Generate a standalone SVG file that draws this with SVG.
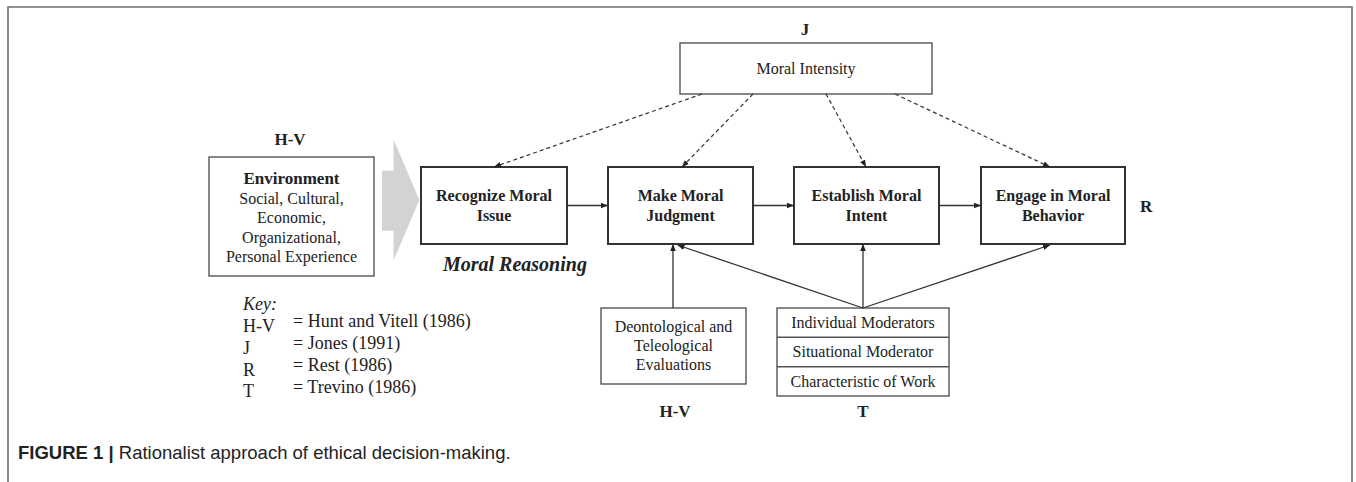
<svg xmlns="http://www.w3.org/2000/svg" width="1356" height="482" viewBox="0 0 1356 482">
<style>
  .t{font-family:"Liberation Serif","Times New Roman",serif;fill:#222}
  .b{font-weight:bold}
  .c{text-anchor:middle}
  .s16{font-size:16px}
  .s17{font-size:17px}
  .main{fill:#fff;stroke:#333;stroke-width:2}
  .sub{fill:#fff;stroke:#555;stroke-width:1.4}
  .ln{fill:none;stroke:#333;stroke-width:1.3}
  .dash{fill:none;stroke:#333;stroke-width:1.2;stroke-dasharray:4 3}
</style>
<defs>
  <marker id="ah" viewBox="0 0 10 10" refX="10" refY="5" markerWidth="7" markerHeight="7" orient="auto" markerUnits="userSpaceOnUse">
    <path d="M0,1 L10,5 L0,9 Z" fill="#222"/>
  </marker>
</defs>
<rect width="1356" height="482" fill="#fff"/>
<path d="M8,490 L8,7 L1352,7 L1352,490" fill="none" stroke="#6e6e6e" stroke-width="1.6"/>

<g id="label-j"><text class="t b c s17" x="805" y="35">J</text></g>
<g id="moral-intensity">
  <rect class="sub" x="680" y="43" width="252" height="51"/>
  <text class="t c s16" x="806" y="74">Moral Intensity</text>
</g>

<g id="label-hv-top"><text class="t b c s17" x="290" y="145">H-V</text></g>
<g id="environment">
  <rect class="sub" x="209" y="157" width="165" height="119"/>
  <text class="t b c s17" x="291.5" y="184">Environment</text>
  <text class="t c s16" x="291.5" y="204">Social, Cultural,</text>
  <text class="t c s16" x="291.5" y="223">Economic,</text>
  <text class="t c s16" x="291.5" y="243">Organizational,</text>
  <text class="t c s16" x="291.5" y="262">Personal Experience</text>
</g>
<g id="big-arrow">
  <path d="M382,170.7 L393.5,170.7 L393.5,139.3 L419.3,200 L393.5,260.7 L393.5,230.7 L382,230.7 Z" fill="#d3d3d3"/>
</g>

<g id="recognize">
  <rect class="main" x="421" y="167" width="146" height="77"/>
  <text class="t b c s16" x="494" y="201">Recognize Moral</text>
  <text class="t b c s16" x="494" y="221">Issue</text>
</g>
<g id="judgment">
  <rect class="main" x="608" y="167" width="145" height="77"/>
  <text class="t b c s16" x="680.5" y="201">Make Moral</text>
  <text class="t b c s16" x="680.5" y="221">Judgment</text>
</g>
<g id="intent">
  <rect class="main" x="794" y="167" width="145" height="77"/>
  <text class="t b c s16" x="866.5" y="201">Establish Moral</text>
  <text class="t b c s16" x="866.5" y="221">Intent</text>
</g>
<g id="behavior">
  <rect class="main" x="981" y="167" width="144" height="77"/>
  <text class="t b c s16" x="1053" y="201">Engage in Moral</text>
  <text class="t b c s16" x="1053" y="221">Behavior</text>
</g>
<g id="label-r"><text class="t b s17" x="1140" y="212">R</text></g>
<g id="moral-reasoning"><text class="t b" x="443" y="271" font-size="20" font-style="italic">Moral Reasoning</text></g>

<g id="deontological">
  <rect class="sub" x="601" y="308" width="145" height="76"/>
  <text class="t c s16" x="673.5" y="332">Deontological and</text>
  <text class="t c s16" x="673.5" y="351">Teleological</text>
  <text class="t c s16" x="673.5" y="370">Evaluations</text>
</g>
<g id="label-hv-bottom"><text class="t b c s17" x="675" y="417">H-V</text></g>

<g id="moderators">
  <rect class="sub" x="777" y="308" width="172" height="88"/>
  <line x1="777" y1="337.3" x2="949" y2="337.3" stroke="#555" stroke-width="1.4"/>
  <line x1="777" y1="366.7" x2="949" y2="366.7" stroke="#555" stroke-width="1.4"/>
  <text class="t c s16" x="863" y="328">Individual Moderators</text>
  <text class="t c s16" x="863" y="357">Situational Moderator</text>
  <text class="t c s16" x="863" y="386.5">Characteristic of Work</text>
</g>
<g id="label-t"><text class="t b c s17" x="863" y="417">T</text></g>

<g id="key">
  <text class="t" x="243" y="310" font-size="18" font-style="italic">Key:</text>
  <text class="t" x="243" y="332" font-size="18">H-V</text>
  <text class="t" x="243" y="354" font-size="18">J</text>
  <text class="t" x="243" y="376" font-size="18">R</text>
  <text class="t" x="243" y="397" font-size="18">T</text>
  <text class="t" x="293" y="327" font-size="18">= Hunt and Vitell (1986)</text>
  <text class="t" x="293" y="349" font-size="18">= Jones (1991)</text>
  <text class="t" x="293" y="371" font-size="18">= Rest (1986)</text>
  <text class="t" x="293" y="393" font-size="18">= Trevino (1986)</text>
</g>

<g id="connectors">
  <line class="ln" x1="567" y1="205.5" x2="608" y2="205.5" marker-end="url(#ah)"/>
  <line class="ln" x1="753" y1="205.5" x2="794" y2="205.5" marker-end="url(#ah)"/>
  <line class="ln" x1="939" y1="205.5" x2="981" y2="205.5" marker-end="url(#ah)"/>
  <line class="dash" x1="702" y1="94" x2="494" y2="167" marker-end="url(#ah)"/>
  <line class="dash" x1="753" y1="94" x2="682" y2="167" marker-end="url(#ah)"/>
  <line class="dash" x1="826" y1="94" x2="866" y2="167" marker-end="url(#ah)"/>
  <line class="dash" x1="895" y1="94" x2="1050" y2="167" marker-end="url(#ah)"/>
  <line class="ln" x1="673" y1="308" x2="673" y2="244" marker-end="url(#ah)"/>
  <line class="ln" x1="863" y1="308" x2="677.5" y2="245" marker-end="url(#ah)"/>
  <line class="ln" x1="863" y1="308" x2="863" y2="244" marker-end="url(#ah)"/>
  <line class="ln" x1="863" y1="308" x2="1050" y2="245" marker-end="url(#ah)"/>
</g>

<g id="caption">
  <text x="18" y="459" font-family="'Liberation Sans',Arial,sans-serif" font-size="18.5" fill="#222"><tspan font-weight="bold">FIGURE 1 | </tspan>Rationalist approach of ethical decision-making.</text>
</g>
</svg>
